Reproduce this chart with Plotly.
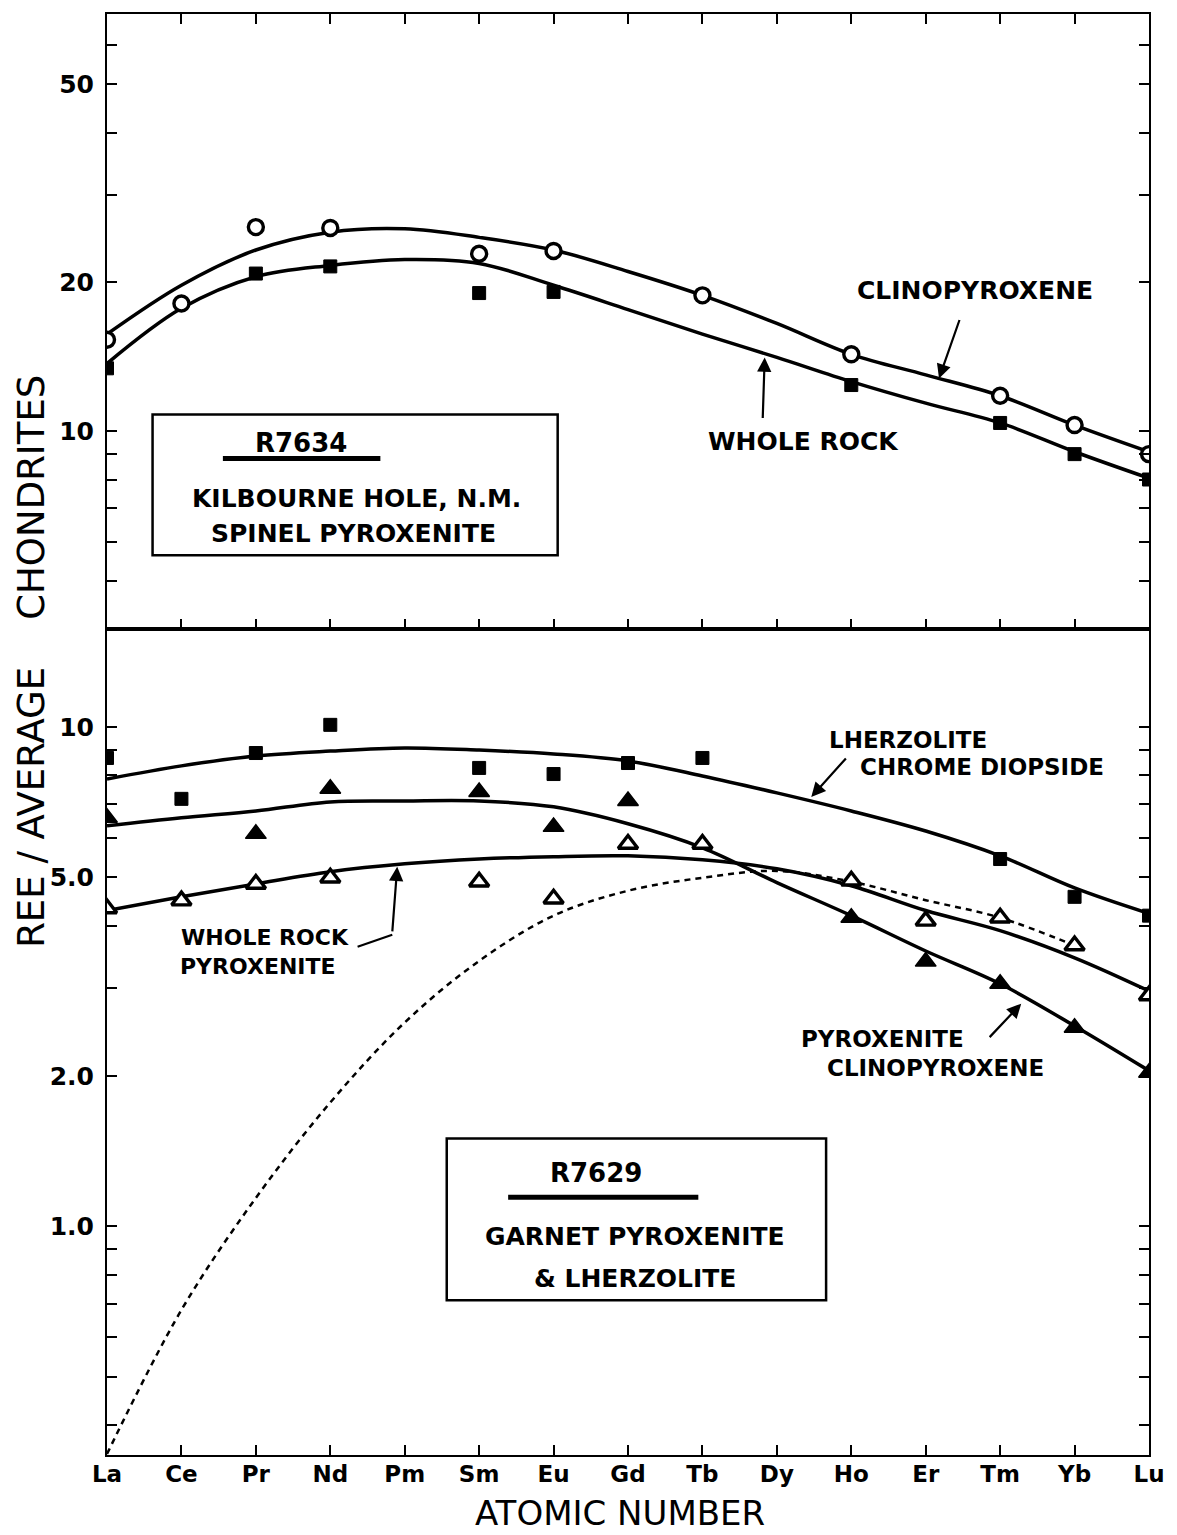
import plotly.graph_objects as go

elements = ["La", "Ce", "Pr", "Nd", "Pm", "Sm", "Eu", "Gd", "Tb", "Dy", "Ho", "Er", "Tm", "Yb", "Lu"]

# ---------------- Top panel: R7634 (Kilbourne Hole, spinel pyroxenite) ----------------
cpx_top_el = ["La", "Ce", "Pr", "Nd", "Sm", "Eu", "Tb", "Ho", "Tm", "Yb", "Lu"]
cpx_top_val = [15.3, 18.1, 25.8, 25.7, 22.8, 23.1, 18.8, 14.3, 11.8, 10.3, 9.0]
wr_top_el = ["La", "Pr", "Nd", "Sm", "Eu", "Ho", "Tm", "Yb", "Lu"]
wr_top_val = [13.4, 20.8, 21.5, 19.0, 19.1, 12.4, 10.4, 9.0, 8.0]
cpx_top_curve = [15.7, 19.7, 23.2, 25.2, 25.6, 24.6, 23.2, 21.0, 18.8, 16.5, 14.3, 13.0, 11.8, 10.3, 9.1]
wr_top_curve = [13.7, 17.7, 20.5, 21.6, 22.2, 21.8, 19.7, 17.6, 15.7, 14.1, 12.6, 11.4, 10.4, 9.1, 8.05]

# ---------------- Bottom panel: R7629 (garnet pyroxenite & lherzolite) ----------------
lherz_el = ["La", "Ce", "Pr", "Nd", "Sm", "Eu", "Gd", "Tb", "Tm", "Yb", "Lu"]
lherz_val = [8.67, 7.18, 8.87, 10.1, 8.28, 8.05, 8.47, 8.67, 5.44, 4.57, 4.19]
lherz_curve = [7.87, 8.36, 8.75, 8.95, 9.08, 8.99, 8.83, 8.55, 7.98, 7.38, 6.79, 6.19, 5.52, 4.76, 4.23]

pxcpx_el = ["La", "Pr", "Nd", "Sm", "Eu", "Gd", "Ho", "Er", "Tm", "Yb", "Lu"]
pxcpx_val = [6.58, 6.11, 7.52, 7.41, 6.31, 7.11, 4.15, 3.39, 3.06, 2.50, 2.03]
pxcpx_curve = [6.34, 6.58, 6.79, 7.08, 7.11, 7.11, 6.92, 6.40, 5.73, 4.88, 4.19, 3.56, 3.06, 2.52, 2.05]

wrpx_el = ["La", "Ce", "Pr", "Nd", "Sm", "Eu", "Gd", "Tb", "Ho", "Er", "Tm", "Yb", "Lu"]
wrpx_val = [4.33, 4.49, 4.85, 4.99, 4.90, 4.53, 5.83, 5.83, 4.92, 4.09, 4.15, 3.65, 2.90]
wrpx_curve = [4.29, 4.57, 4.85, 5.13, 5.32, 5.44, 5.50, 5.52, 5.42, 5.20, 4.81, 4.29, 3.91, 3.45, 2.96]

dotted_el = elements[:14]
dotted_curve = [0.35, 0.68, 1.14, 1.77, 2.56, 3.40, 4.19, 4.70, 4.99, 5.15, 4.90, 4.50, 4.15, 3.65]

# tick values
top_major = [10, 20, 50]
top_major_text = ["10", "20", "50"]
top_minor = [5, 6, 7, 8, 9, 30, 40, 60]
bot_major = [1, 2, 5, 10]
bot_major_text = ["1.0", "2.0", "5.0", "10"]
bot_minor = [0.4, 0.5, 0.6, 0.7, 0.8, 0.9, 3, 4, 6, 7, 8, 9]

FONT = "DejaVu Sans"
BLK = "black"
LW = 3.5

# page geometry (pixels) of the frame
W, H = 1177, 1535
PL, PR, PT, PDIV, PB = 107, 1159, 12, 628, 1455


def fx(px):
    return (px - PL) / (PR - PL)


def fyt(py):
    return (PDIV - py) / (PDIV - PT)


def fyb(py):
    return (PB - py) / (PB - PDIV)


def pyp(py):
    return (PB - py) / (PB - PT)


fig = go.Figure()


def curve(x, y, xa, ya, dash=None, width=LW):
    fig.add_trace(go.Scatter(
        x=x, y=y, xaxis=xa, yaxis=ya, mode="lines",
        line=dict(color=BLK, width=width, shape="spline", smoothing=1.0, dash=dash),
        hoverinfo="skip"))


def points(x, y, xa, ya, symbol, size, fill, lw):
    fig.add_trace(go.Scatter(
        x=x, y=y, xaxis=xa, yaxis=ya, mode="markers",
        marker=dict(symbol=symbol, size=size, color=fill,
                    line=dict(color=BLK, width=lw))))


# top panel
curve(elements, cpx_top_curve, "x2", "y2")
curve(elements, wr_top_curve, "x2", "y2")
points(cpx_top_el, cpx_top_val, "x2", "y2", "circle", 15, "white", 3.4)
points(wr_top_el, wr_top_val, "x2", "y2", "square", 13, BLK, 1)

# bottom panel
curve(dotted_el, dotted_curve, "x", "y", dash="6px,5px", width=2.5)
curve(elements, lherz_curve, "x", "y")
curve(elements, pxcpx_curve, "x", "y")
curve(elements, wrpx_curve, "x", "y")
points(lherz_el, lherz_val, "x", "y", "square", 13, BLK, 1)
points(pxcpx_el, pxcpx_val, "x", "y", "triangle-up", 18, BLK, 1.5)
points(wrpx_el, wrpx_val, "x", "y", "triangle-up", 17, "white", 3.4)

bot_range = [-0.458, 1.196]
top_range = [0.6016, 1.8410]
split = (PB - PDIV) / (PB - PT)

common_ax = dict(showline=True, linecolor=BLK, linewidth=2, showgrid=False, zeroline=False,
                 ticks="inside", tickcolor=BLK, tickwidth=2)

fig.update_layout(
    width=W, height=H,
    margin=dict(l=PL, r=W - PR, t=PT, b=H - PB),
    paper_bgcolor="white", plot_bgcolor="white",
    showlegend=False,
    font=dict(family=FONT, color=BLK),
    xaxis=dict(domain=[0, 1], anchor="y", type="category", categoryorder="array",
               categoryarray=elements, range=[0, 14], mirror=True, ticklen=10,
               tickvals=elements, tickfont=dict(size=23, family=FONT, weight="bold"),
               ticklabelstandoff=-3, **common_ax),
    xaxis2=dict(domain=[0, 1], anchor="y2", matches="x", type="category", categoryorder="array",
                categoryarray=elements, range=[0, 14], mirror="ticks", ticklen=10,
                tickvals=elements, showticklabels=False, **common_ax),
    yaxis=dict(domain=[0, split], anchor="x", type="log", range=bot_range,
               tickvals=bot_major, ticktext=bot_major_text, ticklen=10, mirror="ticks",
               minor=dict(tickvals=bot_minor, ticklen=10, ticks="inside", tickwidth=2, tickcolor=BLK),
               tickfont=dict(size=25, family=FONT, weight="bold"), ticklabelstandoff=6, **common_ax),
    yaxis2=dict(domain=[split, 1], anchor="x2", type="log", range=top_range,
                tickvals=top_major, ticktext=top_major_text, ticklen=10, mirror="ticks",
                minor=dict(tickvals=top_minor, ticklen=10, ticks="inside", tickwidth=2, tickcolor=BLK),
                tickfont=dict(size=25, family=FONT, weight="bold"), ticklabelstandoff=6, **common_ax),
    yaxis3=dict(overlaying="y", anchor="x", type="log", range=bot_range, side="left",
                tickvals=[1, 10], ticklen=22, mirror="ticks", showticklabels=False, **common_ax),
    yaxis4=dict(overlaying="y2", anchor="x2", type="log", range=top_range, side="left",
                tickvals=[10], ticklen=22, mirror="ticks", showticklabels=False, **common_ax),
)

ann = []
TOP = ("x2 domain", "y2 domain", fyt)
BOT = ("x domain", "y domain", fyb)


def text(s, px, py, ref, size=21, weight="bold"):
    xr, yr, fy = ref
    ann.append(dict(text=s, x=fx(px), y=fy(py), xref=xr, yref=yr, showarrow=False,
                    xanchor="center", yanchor="middle",
                    font=dict(size=size, family=FONT, color=BLK, weight=weight)))


def arrow(px, py, ax, ay, ref):
    xr, yr, fy = ref
    ann.append(dict(text="", x=fx(px), y=fy(py), xref=xr, yref=yr, showarrow=True, ax=ax, ay=ay,
                    arrowhead=2, arrowsize=1.3, arrowwidth=2.2, arrowcolor=BLK))


# top-panel labels
text("CLINOPYROXENE", 983, 289, TOP, size=25)
arrow(947, 377, 21, -60, TOP)
text("WHOLE ROCK", 810, 440, TOP, size=25)
arrow(771, 356, -2, 62, TOP)
text("R7634", 303, 442, TOP, size=26)
text("KILBOURNE HOLE, N.M.", 359, 497, TOP, size=25)
text("SPINEL PYROXENITE", 356, 532, TOP, size=25)

# bottom-panel labels
text("LHERZOLITE", 916, 739, BOT, size=23)
text("CHROME DIOPSIDE", 990, 766, BOT, size=23)
arrow(818, 796, 36, -40, BOT)
text("WHOLE ROCK", 267, 937, BOT, size=22)
text("PYROXENITE", 259, 966, BOT, size=22)
arrow(400, 866, -5, 66, BOT)
text("PYROXENITE", 890, 1038, BOT, size=23)
text("CLINOPYROXENE", 943, 1067, BOT, size=23)
arrow(1030, 1003, -33, 35, BOT)
text("R7629", 601, 1173, BOT, size=26)
text("GARNET PYROXENITE", 640, 1236, BOT, size=25)
text("&amp; LHERZOLITE", 640, 1278, BOT, size=25)

# axis titles
ann.append(dict(text="ATOMIC NUMBER", x=fx(625), y=pyp(1513), xref="paper", yref="paper",
                showarrow=False, xanchor="center", yanchor="middle",
                font=dict(size=34, family=FONT, color=BLK)))
ann.append(dict(text="REE / AVERAGE    CHONDRITES", x=fx(30), y=pyp(660), xref="paper", yref="paper",
                showarrow=False, textangle=-90, xanchor="center", yanchor="middle",
                font=dict(size=37, family=FONT, color=BLK)))

fig.update_layout(annotations=ann)

shapes = [
    # label boxes
    dict(type="rect", xref="x2 domain", yref="y2 domain", x0=fx(153), x1=fx(562), y0=fyt(554), y1=fyt(413),
         line=dict(color=BLK, width=2.5)),
    dict(type="rect", xref="x domain", yref="y domain", x0=fx(450), x1=fx(833), y0=fyb(1300), y1=fyb(1138),
         line=dict(color=BLK, width=2.5)),
    # underlines of the sample numbers
    dict(type="line", xref="x2 domain", yref="y2 domain", x0=fx(224), x1=fx(383), y0=fyt(457), y1=fyt(457),
         line=dict(color=BLK, width=5)),
    dict(type="line", xref="x domain", yref="y domain", x0=fx(512), x1=fx(704), y0=fyb(1197), y1=fyb(1197),
         line=dict(color=BLK, width=5)),
    # connector of the whole-rock pyroxenite leader
    dict(type="line", xref="x domain", yref="y domain", x0=fx(360), x1=fx(395), y0=fyb(946), y1=fyb(934),
         line=dict(color=BLK, width=2.2)),
]
fig.update_layout(shapes=shapes)

# remove the default page margin so the 1177x1535 figure fills the window exactly
fig.write_html("out.html",
               config={"displayModeBar": False},
               post_script="document.body.style.margin='0';document.body.style.overflow='hidden';")
